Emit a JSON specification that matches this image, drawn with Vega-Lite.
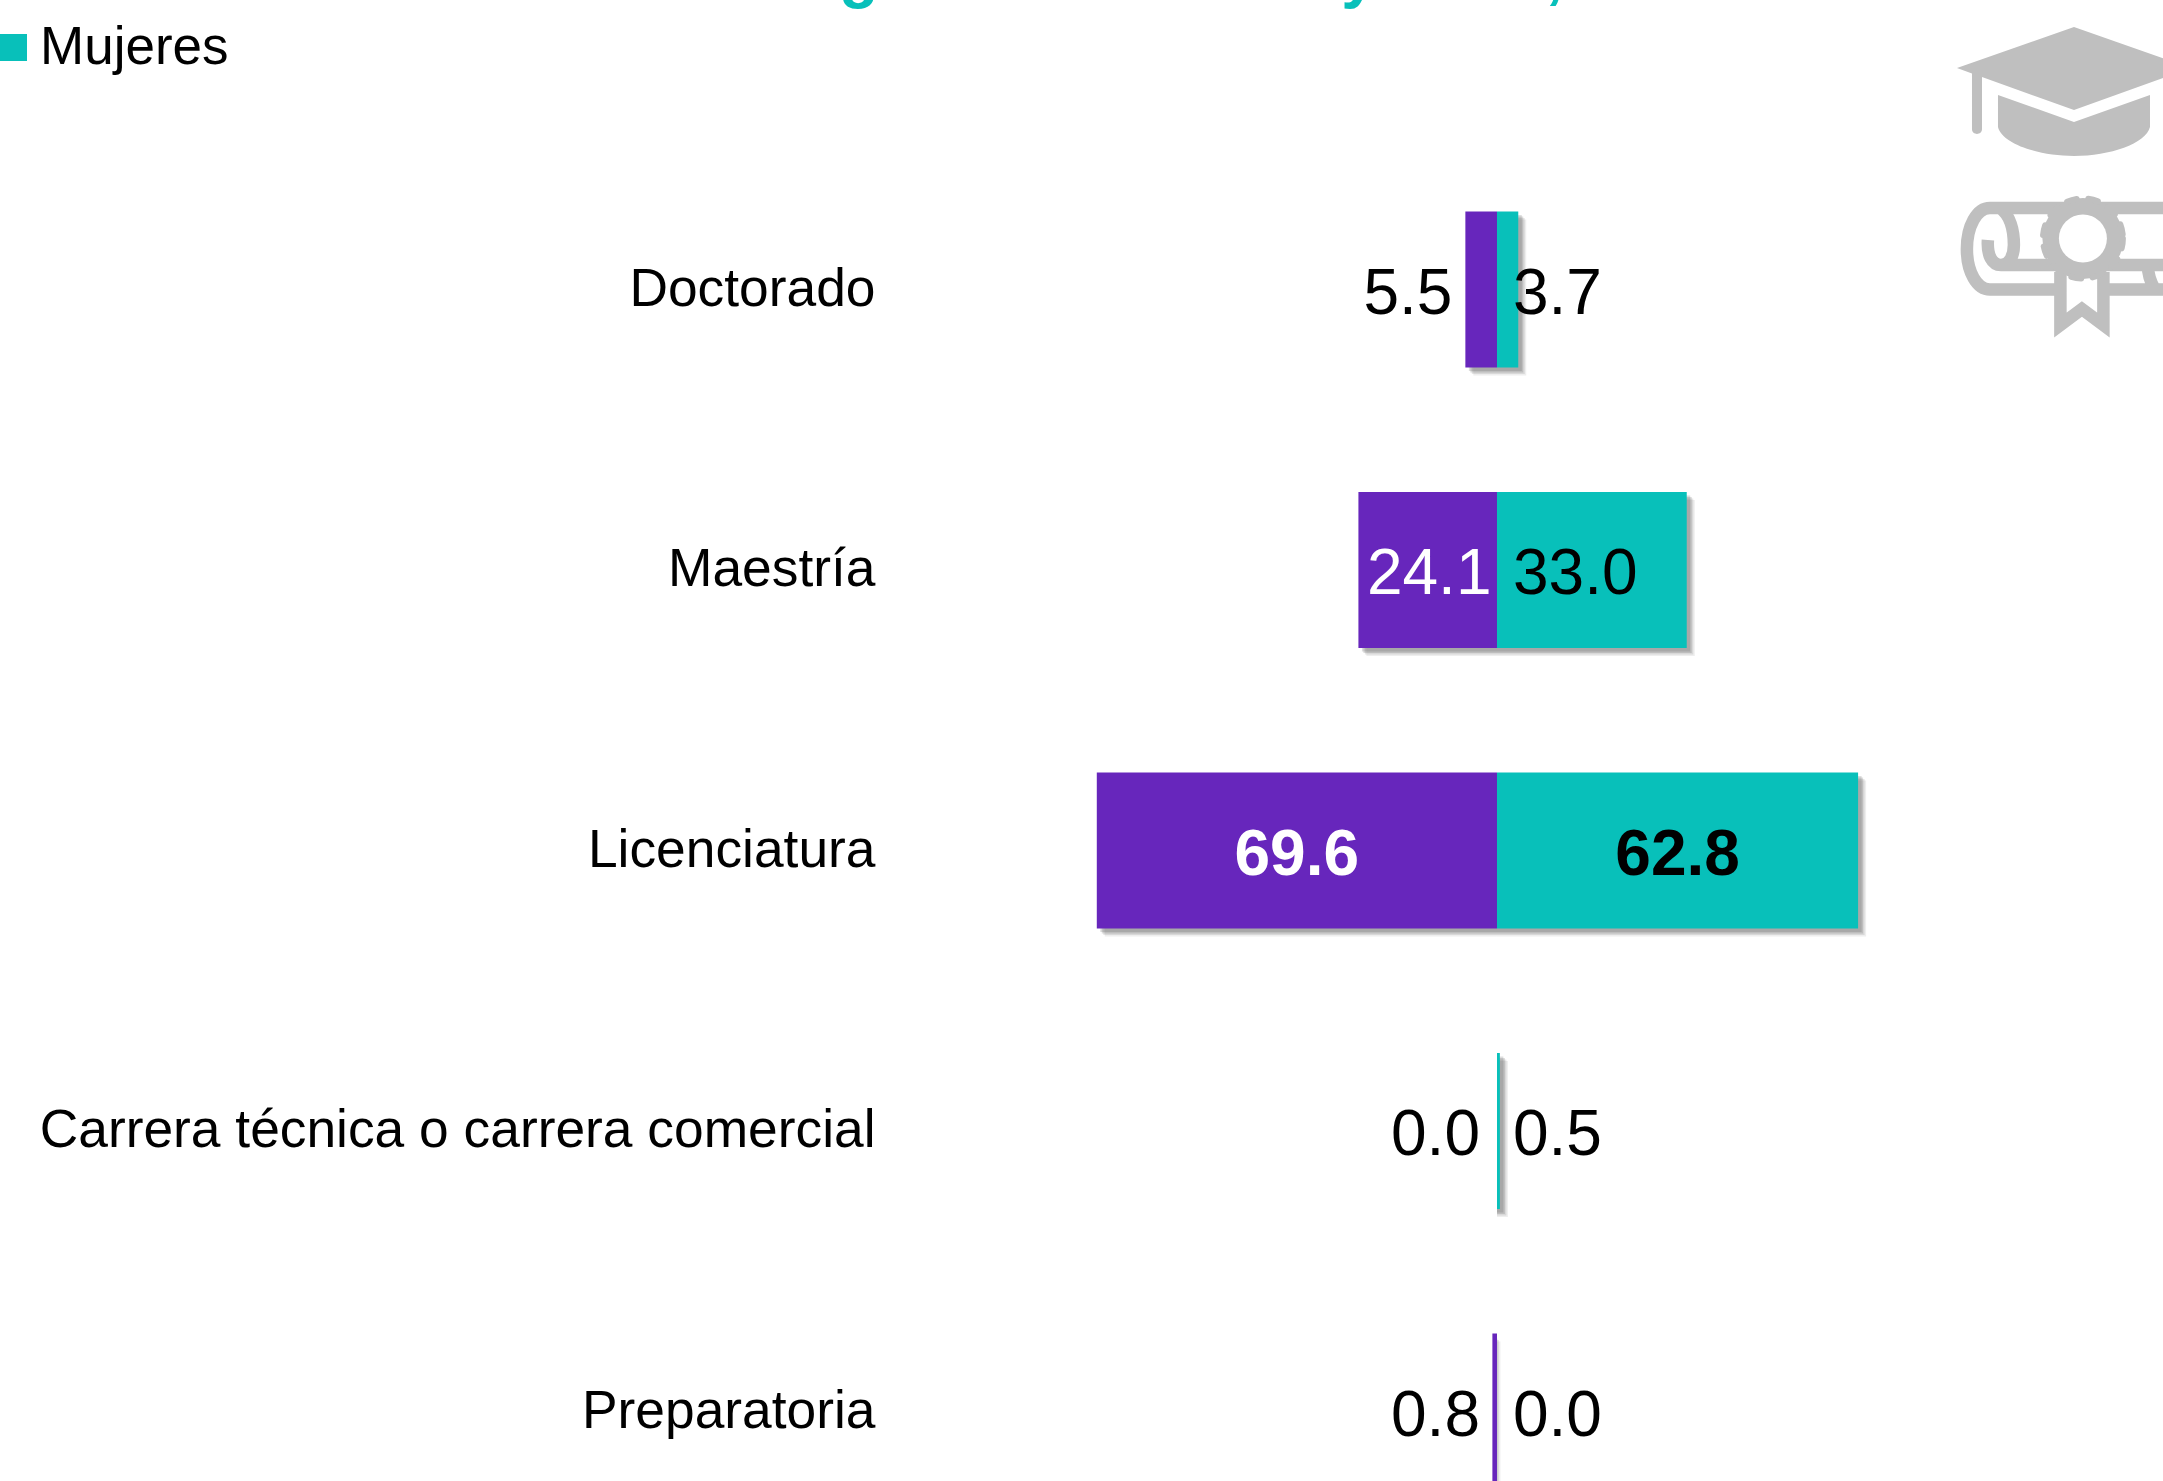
{
"$schema":"https://vega.github.io/schema/vega-lite/v6.json",
"width":2163,"height":1481,"autosize":{"type":"none"},"padding":0,"background":"white",
"config":{"view":{"stroke":null},"text":{"font":"Liberation Sans"}},
"data":{"values":[
{"nivel":"Doctorado","sexo":"Hombres","porcentaje":5.5,"lado":-5.5},
{"nivel":"Doctorado","sexo":"Mujeres","porcentaje":3.7,"lado":3.7},
{"nivel":"Maestría","sexo":"Hombres","porcentaje":24.1,"lado":-24.1},
{"nivel":"Maestría","sexo":"Mujeres","porcentaje":33.0,"lado":33.0},
{"nivel":"Licenciatura","sexo":"Hombres","porcentaje":69.6,"lado":-69.6},
{"nivel":"Licenciatura","sexo":"Mujeres","porcentaje":62.8,"lado":62.8},
{"nivel":"Carrera técnica o carrera comercial","sexo":"Hombres","porcentaje":0.0,"lado":0},
{"nivel":"Carrera técnica o carrera comercial","sexo":"Mujeres","porcentaje":0.5,"lado":0.5},
{"nivel":"Preparatoria","sexo":"Hombres","porcentaje":0.8,"lado":-0.8},
{"nivel":"Preparatoria","sexo":"Mujeres","porcentaje":0.0,"lado":0}
]},
"encoding":{
"x":{"field":"lado","type":"quantitative","stack":null,"scale":{"domain":[-260.35,115.83],"nice":false,"zero":false},"axis":null},
"y":{"field":"nivel","type":"nominal","sort":null,"scale":{"domain":["Doctorado","Maestría","Licenciatura","Carrera técnica o carrera comercial","Preparatoria"],"range":[149.25,1551.75],"paddingInner":0.444,"paddingOuter":0.222},
"axis":{"orient":"left","offset":-875,"title":null,"domain":false,"ticks":false,"labelPadding":0,"labelFont":"Liberation Sans","labelFontSize":53.33,"labelColor":"#000000","labelLimit":1200,"labelOverlap":false,"grid":false}}
},
"layer":[
{"transform":[{"filter":"datum.lado !== 0"}],"mark":{"type":"bar","color":"#555555","opacity":0.1,"xOffset":8,"yOffset":8}},
{"transform":[{"filter":"datum.lado !== 0"}],"mark":{"type":"bar","color":"#555555","opacity":0.14,"xOffset":6.5,"yOffset":6.5}},
{"transform":[{"filter":"datum.lado !== 0"}],"mark":{"type":"bar","color":"#555555","opacity":0.2,"xOffset":5,"yOffset":5}},
{"transform":[{"filter":"datum.lado !== 0"}],"mark":{"type":"bar","color":"#555555","opacity":0.2,"xOffset":3.5,"yOffset":3.5}},
{"transform":[{"filter":"datum.lado !== 0"}],"mark":{"type":"bar"},"encoding":{"color":{"field":"sexo","type":"nominal","scale":{"domain":["Hombres","Mujeres"],"range":["#6726BC","#08C0BA"]},
"legend":{"values":["Mujeres"],"orient":"none","legendX":-13,"legendY":21,"title":null,"padding":0,"symbolType":"square","symbolSize":729,"symbolStrokeWidth":0,"labelFont":"Liberation Sans","labelFontSize":53,"labelColor":"#000000","labelOffset":0,"labelLimit":400,"symbolOpacity":1}}}},
{"transform":[{"filter":"datum.sexo==='Mujeres' && datum.nivel!=='Licenciatura'"}],
"mark":{"type":"text","align":"left","baseline":"alphabetic","fontSize":64,"color":"#000000","dx":16,"dy":24},
"encoding":{"x":{"datum":0,"type":"quantitative"},"text":{"field":"porcentaje","type":"quantitative","format":".1f"}}},
{"transform":[{"filter":"datum.sexo==='Hombres' && datum.nivel==='Doctorado'"}],
"mark":{"type":"text","align":"right","baseline":"alphabetic","fontSize":64,"color":"#000000","dx":-13,"dy":24},
"encoding":{"text":{"field":"porcentaje","type":"quantitative","format":".1f"}}},
{"transform":[{"filter":"datum.sexo==='Hombres' && (datum.nivel==='Preparatoria' || datum.nivel==='Carrera técnica o carrera comercial')"}],
"mark":{"type":"text","align":"right","baseline":"alphabetic","fontSize":64,"color":"#000000","dx":-17,"dy":24},
"encoding":{"x":{"datum":0,"type":"quantitative"},"text":{"field":"porcentaje","type":"quantitative","format":".1f"}}},
{"transform":[{"filter":"datum.sexo==='Hombres' && datum.nivel==='Maestría'"}],
"mark":{"type":"text","align":"right","baseline":"alphabetic","fontSize":64,"color":"#FFFFFF","dx":-5.5,"dy":24},
"encoding":{"x":{"datum":0,"type":"quantitative"},"text":{"field":"porcentaje","type":"quantitative","format":".1f"}}},
{"transform":[{"filter":"datum.sexo==='Hombres' && datum.nivel==='Licenciatura'"}],
"mark":{"type":"text","align":"center","baseline":"alphabetic","fontSize":64,"fontWeight":"bold","color":"#FFFFFF","dx":200,"dy":24},
"encoding":{"text":{"field":"porcentaje","type":"quantitative","format":".1f"}}},
{"transform":[{"filter":"datum.sexo==='Mujeres' && datum.nivel==='Licenciatura'"}],
"mark":{"type":"text","align":"center","baseline":"alphabetic","fontSize":64,"fontWeight":"bold","color":"#000000","dx":-180.5,"dy":24},
"encoding":{"text":{"field":"porcentaje","type":"quantitative","format":".1f"}}},
{"data":{"values":[{"nivel":"Doctorado","lado":-111,"fragmento":"g"},{"nivel":"Doctorado","lado":-24,"fragmento":"y"},{"nivel":"Doctorado","lado":10,"fragmento":","}]},
"mark":{"type":"text","align":"center","baseline":"alphabetic","fontSize":64,"fontWeight":"bold","color":"#08C0BA","dy":-294},
"encoding":{"text":{"field":"fragmento","type":"nominal"}}},
{"data":{"values":[{"nivel":"Doctorado","lado":100.35,"icono":"birrete"}]},
"mark":{"type":"point","filled":true,"opacity":1,"color":"#BFBFBF","size":40000,"yOffset":-198,
"shape":"M0,-0.645 L1.17,-0.235 L0,0.185 L-0.92,-0.145 L-0.92,0.375 C-0.92,0.44 -1.02,0.44 -1.02,0.375 L-1.02,-0.18 L-1.17,-0.235 Z M-0.76,0.035 L0,0.305 L0.76,0.035 L0.76,0.355 C0.72,0.52 0.36,0.645 0,0.645 C-0.36,0.645 -0.72,0.52 -0.76,0.355 Z"}},
{"data":{"values":[{"nivel":"Doctorado","lado":101.9,"icono":"diploma"}]},
"mark":{"type":"point","filled":false,"opacity":1,"stroke":"#BFBFBF","strokeWidth":12.5,"strokeJoin":"miter","size":40000,"yOffset":-51.5,
"shape":"M0.87,-0.30 L-0.93,-0.30 C-1.06,-0.30 -1.16,-0.12 -1.16,0.11 C-1.16,0.34 -1.06,0.515 -0.93,0.515 L-0.23,0.515 M0.23,0.515 L0.87,0.515 M-0.95,0.02 C-0.96,0.17 -0.91,0.27 -0.82,0.27 C-0.73,0.27 -0.69,0.17 -0.69,0.07 C-0.69,-0.08 -0.73,-0.23 -0.83,-0.30 M-0.82,0.27 L0.87,0.27 M0.65,0.27 C0.65,0.37 0.68,0.45 0.72,0.515 M-0.225,0.34 L-0.225,0.87 L-0.01,0.71 L0.205,0.87 L0.205,0.34"}},
{"data":{"values":[{"nivel":"Doctorado","lado":101.9,"icono":"sello"}]},
"mark":{"type":"point","shape":"circle","filled":true,"opacity":1,"color":"#BFBFBF","size":6561,"yOffset":-51}},
{"data":{"values":[{"nivel":"Doctorado","lado":101.9,"icono":"sello-borde"}]},
"mark":{"type":"point","shape":"circle","filled":false,"opacity":1,"stroke":"#BFBFBF","strokeWidth":6,"strokeDash":[10,11.5],"strokeCap":"round","size":6400,"yOffset":-51}},
{"data":{"values":[{"nivel":"Doctorado","lado":101.9,"icono":"sello-centro"}]},
"mark":{"type":"point","shape":"circle","filled":true,"opacity":1,"color":"#FFFFFF","size":2304,"yOffset":-51}}
]
}
